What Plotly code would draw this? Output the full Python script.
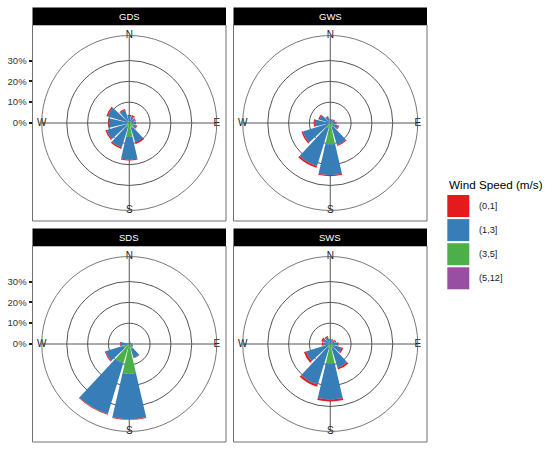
import plotly.graph_objects as go

# figure size in px
W, H = 550, 449

# wind direction sectors (30 degree bins, clockwise from north)
directions = ["N", "NNE", "ENE", "E", "ESE", "SSE", "S", "SSW", "WSW", "W", "WNW", "NNW"]
angles = [0, 30, 60, 90, 120, 150, 180, 210, 240, 270, 300, 330]

sites = ["GDS", "GWS", "SDS", "SWS"]
speed_bins = ["(0,1]", "(1,3]", "(3,5]", "(5,12]"]
bin_colors = ["#E41A1C", "#377EB8", "#4DAF4A", "#984EA3"]

# frequency (%) per direction for each speed class
gds_0_1 = [0.5, 0.6, 0.5, 0.5, 0.5, 0.7, 0.5, 0.7, 0.7, 0.6, 0.7, 0.5]
gds_1_3 = [2.7, 2.4, 1.8, 1.5, 1.5, 7.2, 10.8, 10.2, 9.8, 8.4, 10.0, 5.7]
gds_3_5 = [0.8, 1.0, 1.0, 1.2, 2.0, 2.5, 6.5, 2.0, 1.5, 1.0, 0.8, 0.8]
gds_5_12 = [0, 0, 0, 0, 0, 0.1, 0.2, 0.1, 0, 0, 0, 0]

gws_0_1 = [0.3, 0.3, 0.3, 0.3, 0.4, 0.5, 0.5, 0.9, 0.7, 0.5, 0.6, 0.4]
gws_1_3 = [1.2, 1.2, 1.4, 1.7, 2.6, 9.0, 14.8, 19.1, 12.8, 7.0, 4.9, 2.8]
gws_3_5 = [0.5, 0.5, 0.8, 1.0, 1.5, 2.0, 10.0, 2.5, 1.0, 0.5, 0.5, 0.3]
gws_5_12 = [0, 0, 0, 0, 0, 0, 0.2, 0, 0, 0, 0, 0]

sds_0_1 = [0.1, 0.1, 0.1, 0.1, 0.1, 0.2, 0.3, 0.4, 0.4, 0.3, 0.2, 0.1]
sds_1_3 = [0.3, 0.6, 0.6, 0.9, 1.1, 4.5, 21.8, 25.4, 8.9, 3.7, 0.6, 0.3]
sds_3_5 = [0.1, 0.3, 0.3, 0.5, 0.8, 2.5, 14.0, 9.5, 3.0, 0.5, 0.2, 0.1]
sds_5_12 = [0, 0, 0, 0, 0, 0, 0.3, 0.2, 0, 0, 0, 0]

sws_0_1 = [0.5, 0.5, 0.5, 0.6, 0.7, 0.9, 1.0, 1.0, 1.0, 0.7, 0.8, 0.6]
sws_1_3 = [1.5, 1.5, 1.9, 2.4, 4.3, 9.9, 17.4, 18.5, 11.2, 2.8, 3.2, 2.9]
sws_3_5 = [0.5, 0.5, 0.6, 1.0, 1.5, 2.0, 9.0, 2.0, 1.0, 0.5, 0.5, 0.5]
sws_5_12 = [0, 0, 0, 0, 0, 0, 0.2, 0, 0, 0, 0, 0]

site_data = {
    "GDS": [gds_0_1, gds_1_3, gds_3_5, gds_5_12],
    "GWS": [gws_0_1, gws_1_3, gws_3_5, gws_5_12],
    "SDS": [sds_0_1, sds_1_3, sds_3_5, sds_5_12],
    "SWS": [sws_0_1, sws_1_3, sws_3_5, sws_5_12],
}

radial_ticks = [0, 10, 20, 30]
compass = ["N", "E", "S", "W"]
compass_angles = [0, 90, 180, 270]

# layout in px
panel_left = [32.5, 233.5]
panel_top = [25, 246]
panel_w, panel_h = 193.5, 196
strip_h = 17.5
circle_px = 87.5      # outer circle radius in px
r_outer = 42.0        # outer circle in data units (%)
font = "Liberation Sans, Arial, sans-serif"
grid_col = "#555555"


def fx(p):
    return p / W


def fy(p):
    return 1 - p / H


fig = go.Figure()
shapes, annotations = [], []
layout = {}

for i, site in enumerate(sites):
    row, col = divmod(i, 2)
    left, top = panel_left[col], panel_top[row]
    cx, cy = left + panel_w / 2, top + panel_h / 2
    pname = "polar" if i == 0 else f"polar{i + 1}"

    # stack from the centre: fastest class first
    for k in reversed(range(len(speed_bins))):
        fig.add_trace(go.Barpolar(
            r=site_data[site][k], theta=angles, width=26,
            marker=dict(color=bin_colors[k], line=dict(width=0)),
            name=speed_bins[k], showlegend=False, subplot=pname,
        ))
    fig.add_trace(go.Scatterpolar(
        r=[r_outer] * 4, theta=compass_angles, text=compass, mode="text",
        textposition="middle center", cliponaxis=False,
        textfont=dict(size=10, color="#1a1a1a", family=font),
        showlegend=False, hoverinfo="skip", subplot=pname,
    ))

    layout[pname] = dict(
        domain=dict(x=[fx(cx - circle_px), fx(cx + circle_px)],
                    y=[fy(cy + circle_px), fy(cy - circle_px)]),
        bgcolor="white",
        barmode="stack",
        radialaxis=dict(range=[0, r_outer], tickvals=radial_ticks[1:],
                        showticklabels=False, ticks="", showline=False,
                        gridcolor=grid_col, gridwidth=0.8),
        angularaxis=dict(rotation=90, direction="clockwise",
                         tickvals=compass_angles, showticklabels=False, ticks="",
                         gridcolor=grid_col, gridwidth=0.8,
                         showline=True, linecolor=grid_col, linewidth=0.8),
    )

    # panel border and strip
    shapes.append(dict(type="rect", xref="paper", yref="paper",
                       x0=fx(left), x1=fx(left + panel_w), y0=fy(top + panel_h), y1=fy(top),
                       line=dict(color="#707070", width=1), fillcolor="rgba(0,0,0,0)"))
    shapes.append(dict(type="rect", xref="paper", yref="paper",
                       x0=fx(left), x1=fx(left + panel_w), y0=fy(top), y1=fy(top - strip_h),
                       line=dict(width=0), fillcolor="black"))
    annotations.append(dict(text=site, xref="paper", yref="paper",
                            x=fx(cx), y=fy(top - strip_h / 2), showarrow=False,
                            xanchor="center", yanchor="middle",
                            font=dict(size=9.5, color="white", family=font)))

    # radial scale shown on the left of the first column
    if col == 0:
        sfx = "" if row == 0 else "2"
        fig.add_trace(go.Scatter(x=[0.5], y=[0], mode="markers", marker=dict(opacity=0),
                                 showlegend=False, hoverinfo="skip",
                                 xaxis="x" + sfx, yaxis="y" + sfx))
        layout["xaxis" + sfx] = dict(domain=[fx(left), fx(left + panel_w)], range=[0, 1],
                                     visible=False)
        layout["yaxis" + sfx] = dict(
            domain=[fy(cy + circle_px), fy(cy - circle_px)], range=[-r_outer, r_outer],
            anchor="x" + sfx, tickvals=radial_ticks,
            ticktext=[f"{v}%" for v in radial_ticks],
            ticks="outside", ticklen=3, tickwidth=2, tickcolor="#1a1a1a",
            tickfont=dict(size=9.5, color="#333333", family=font),
            showgrid=False, zeroline=False, showline=False, fixedrange=True,
        )

# legend drawn as keys next to the panels
annotations.append(dict(text="Wind Speed (m/s)", xref="paper", yref="paper",
                        x=fx(447), y=fy(184), xanchor="left", yanchor="middle",
                        showarrow=False, font=dict(size=11.7, color="black", family=font)))
for k, lab in enumerate(speed_bins):
    ktop = 195 + k * 24.1
    shapes.append(dict(type="rect", xref="paper", yref="paper",
                       x0=fx(447.3), x1=fx(469.3), y0=fy(ktop + 22), y1=fy(ktop),
                       line=dict(width=0), fillcolor=bin_colors[k]))
    annotations.append(dict(text=lab, xref="paper", yref="paper",
                            x=fx(476.5), y=fy(ktop + 11), xanchor="left", yanchor="middle",
                            showarrow=False, font=dict(size=9.2, color="#1a1a1a", family=font)))

fig.update_layout(
    width=W, height=H, margin=dict(l=0, r=0, t=0, b=0),
    paper_bgcolor="white", plot_bgcolor="rgba(0,0,0,0)",
    showlegend=False, shapes=shapes, annotations=annotations,
    **layout,
)

# page has a default body margin; drop it so the figure starts at the corner
fig.write_html("out.html", config={"displayModeBar": False},
               post_script="document.body.style.margin='0';")
